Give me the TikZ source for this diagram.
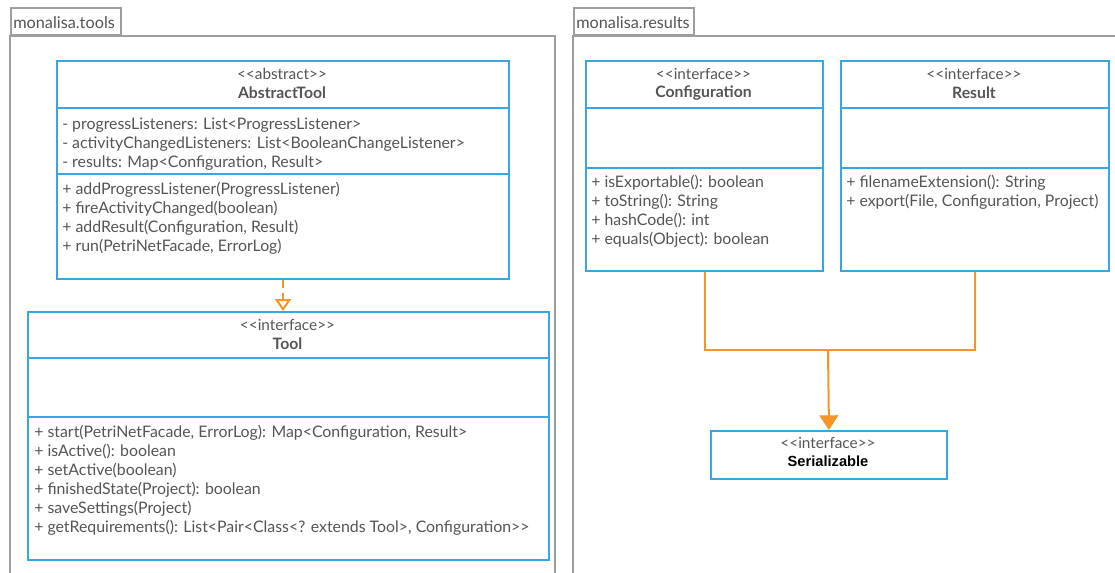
\documentclass[tikz,border=0pt]{standalone}
\usepackage{fontspec}
\setmainfont{Lato}
\newfontfamily\arialfont{Liberation Sans}
\usepackage{tikz}
\usetikzlibrary{arrows.meta}
\usetikzlibrary{positioning}
\usetikzlibrary{calc}
\definecolor{umlblue}{RGB}{56,166,226}
\definecolor{umlorange}{RGB}{247,148,40}
\definecolor{pkggray}{RGB}{158,158,158}
\definecolor{txtgray}{RGB}{85,85,85}
\tikzstyle{classbox}=[draw=umlblue,line width=1.5pt,inner sep=0pt,anchor=north west]
\tikzstyle{divider}=[umlblue,line width=1.5pt]
\tikzstyle{stereo}=[text=txtgray,font=\fontsize{11.5}{13}\selectfont,inner sep=0pt]
\tikzstyle{cname}=[text=txtgray,font=\fontsize{11.8}{13}\selectfont\bfseries,inner sep=0pt]
\tikzstyle{members}=[text=txtgray,font=\fontsize{11.9}{14.25}\selectfont,align=left,anchor=north west,inner sep=0pt]
\tikzstyle{pkgtab}=[draw=pkggray,line width=1.5pt,anchor=south west,minimum height=20.25pt,inner sep=2pt]
\tikzstyle{pkglabel}=[anchor=west,text=txtgray,font=\fontsize{12.2}{13}\selectfont,inner sep=0pt]
\tikzstyle{pkgline}=[pkggray,line width=1.5pt]
\tikzstyle{implline}=[umlorange,line width=1.5pt]

\begin{document}
\begin{tikzpicture}[x=0.75pt,y=-0.75pt]
\useasboundingbox (0,0) rectangle (1115,572);
\fill[white] (0,0) rectangle (1115,572);

% packages
\draw[pkgline] (10,580) -- (10,36) -- (555,36) -- (555,580);
\node[pkgtab,minimum width=82.5pt] (tooltab) at (10,36) {};
\node[pkglabel] at (13,22.5) {monalisa.tools};
\draw[pkgline] (573,580) -- (573,36) -- (1125,36);
\node[pkgtab,minimum width=90pt] (restab) at (573,36) {};
\node[pkglabel] at (576,22.5) {monalisa.results};

% AbstractTool
\node[classbox,minimum width=339pt,minimum height=163.5pt] (abstool) at (56,60) {};
\draw[divider] (56,108) -- (508,108);
\draw[divider] (56,174) -- (508,174);
\node[stereo] at (282,74) {<{}<abstract>{}>};
\node[cname] at (282,93) {AbstractTool};
\node[members] at (62,118) {- progressListeners: List<ProgressListener>\\
- activityChangedListeners: List<BooleanChangeListener>\\
- results: Map<Configuration, Result>};
\node[members] at (62,182) {+ addProgressListener(ProgressListener)\\
+ fireActivityChanged(boolean)\\
+ addResult(Configuration, Result)\\
+ run(PetriNetFacade, ErrorLog)};

% Tool
\node[classbox,minimum width=390.75pt,minimum height=186pt] (tool) at (27,311) {};
\draw[divider] (27,358) -- (548,358);
\draw[divider] (27,417) -- (548,417);
\node[stereo] at (287.5,325) {<{}<interface>{}>};
\node[cname] at (287.5,344) {Tool};
\node[members] at (34,425) {+ start(PetriNetFacade, ErrorLog): Map<Configuration, Result>\\
+ isActive(): boolean\\
+ setActive(boolean)\\
+ finishedState(Project): boolean\\
+ saveSettings(Project)\\
+ getRequirements(): List<Pair<Class<? extends Tool>, Configuration>{}>};

\draw[implline,dashed,dash pattern=on 6pt off 4pt,-{Triangle[open,width=12pt,length=9pt]}] (abstool.south -| 283,0) -- (283,311);

% Configuration
\node[classbox,minimum width=177.75pt,minimum height=157.5pt] (conf) at (585,60) {};
\draw[divider] (585,108) -- (822,108);
\draw[divider] (585,168) -- (822,168);
\node[stereo] at (703.5,74) {<{}<interface>{}>};
\node[cname] at (703.5,93) {Configuration};
\node[members] at (591,175) {+ isExportable(): boolean\\
+ toString(): String\\
+ hashCode(): int\\
+ equals(Object): boolean};

% Result
\node[classbox,minimum width=201pt,minimum height=157.5pt] (result) at (840,60) {};
\draw[divider] (840,108) -- (1108,108);
\draw[divider] (840,168) -- (1108,168);
\node[stereo] at (974,74) {<{}<interface>{}>};
\node[cname] at (974,93) {Result};
\node[members] at (846,175) {+ filenameExtension(): String\\
+ export(File, Configuration, Project)};

% Serializable
\node[classbox,minimum width=177pt,minimum height=36pt] (ser) at (710,430) {};
\node[stereo] at (828,443) {<{}<interface>{}>};
\node[inner sep=0pt,font=\arialfont\fontsize{11}{12}\selectfont\bfseries] at (828,461) {Serializable};

\coordinate (join) at (828,350);
\draw[implline] (conf.south) |- (join) -| (result.south);
\draw[implline,-{Triangle[width=14pt,length=11pt]}] (join) -- (ser.north);
\end{tikzpicture}
\end{document}
